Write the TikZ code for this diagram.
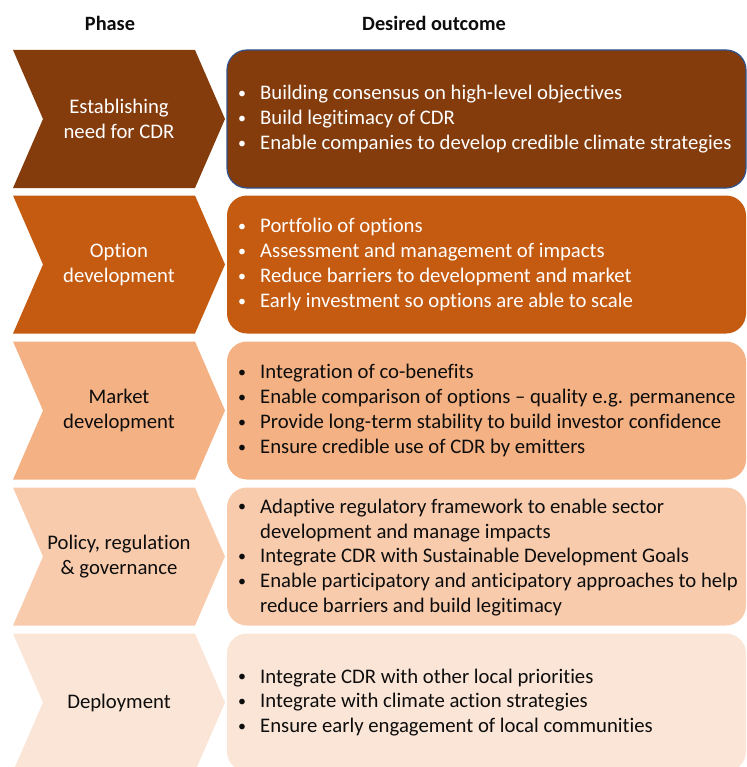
\documentclass[tikz,border=0pt]{standalone}
\usepackage{fontspec}
\setmainfont{Carlito}[Ligatures=NoCommon]
\usepackage{array}
\definecolor{cA}{HTML}{843C0C}
\definecolor{cB}{HTML}{C55A11}
\definecolor{cC}{HTML}{F4B183}
\definecolor{cD}{HTML}{F8CBAD}
\definecolor{cE}{HTML}{FBE5D6}
\definecolor{boxblue}{HTML}{2F528F}
\definecolor{dtext}{HTML}{0D0D0D}
\newcommand{\bul}{\hspace*{1bp}\raisebox{1.2bp}{\fontsize{16}{16}\selectfont •}}
\newcommand{\blist}[1]{\begin{tabular}{@{}p{23bp}@{}l@{}}#1\end{tabular}}
\tikzset{
  txt/.style={inner sep=0pt, font=\fontsize{20.8}{25}\selectfont},
  lab/.style={txt, align=center},
  lst/.style={txt, anchor=west},
  hdr/.style={inner sep=0pt, font=\fontsize{20.4}{25}\selectfont\bfseries, text=dtext},
  obox/.style={rounded corners=20bp}
}
\begin{document}
\begin{tikzpicture}[x=1bp,y=-1bp]
\useasboundingbox (0,0) rectangle (747,767);
\clip (0,0) rectangle (747,767);
\node[hdr] (hphase) at (110,23) {Phase};
\node[hdr] (hout) at (434,23) {Desired outcome};
% row 1
\fill[cA] (13,50) -- (195,50) -- (225,119) -- (195,188) -- (13,188) -- (43,119) -- cycle;
\node[lab, text=white] (p1) at (119,119) {Establishing\\need for CDR};
\filldraw[obox, fill=cA, draw=boxblue, line width=1.2bp] (227,50) rectangle (746,188);
\node[lst, text=white] (o1) at (237,119.5) {\blist{%
\bul & Building consensus on high-level objectives\\
\bul & Build legitimacy of CDR\\
\bul & Enable companies to develop credible climate strategies}};
% row 2
\fill[cB] (13,195.5) -- (195,195.5) -- (225,264.5) -- (195,333.5) -- (13,333.5) -- (43,264.5) -- cycle;
\node[lab, text=white] (p2) at (119,264.5) {Option\\development};
\fill[obox, cB] (227,195.5) rectangle (746,333.5);
\node[lst, text=white] (o2) at (237,265) {\blist{%
\bul & Portfolio of options\\
\bul & Assessment and management of impacts\\
\bul & Reduce barriers to development and market\\
\bul & Early investment so options are able to scale}};
% row 3
\fill[cC] (13,341.5) -- (195,341.5) -- (225,410.5) -- (195,479.5) -- (13,479.5) -- (43,410.5) -- cycle;
\node[lab, text=dtext] (p3) at (119,410.5) {Market\\development};
\fill[obox, cC] (227,341.5) rectangle (746,479.5);
\node[lst, text=dtext] (o3) at (237,411) {\blist{%
\bul & Integration of co-benefits\\
\bul & Enable comparison of options – quality e.g. permanence\\
\bul & Provide long-term stability to build investor confidence\\
\bul & Ensure credible use of CDR by emitters}};
% row 4
\fill[cD] (13,487.5) -- (195,487.5) -- (225,556.5) -- (195,625.5) -- (13,625.5) -- (43,556.5) -- cycle;
\node[lab, text=dtext] (p4) at (119,556.5) {Policy, regulation\\\& governance};
\fill[obox, cD] (227,487.5) rectangle (746,625.5);
\node[lst, text=dtext] (o4) at (237,558) {\blist{%
\bul & Adaptive regulatory framework to enable sector\\
  & development and manage impacts\\
\bul & Integrate CDR with Sustainable Development Goals\\
\bul & Enable participatory and anticipatory approaches to help\\
  & reduce barriers and build legitimacy}};
% row 5
\fill[cE] (13,633.5) -- (195,633.5) -- (225,702.5) -- (195,771.5) -- (13,771.5) -- (43,702.5) -- cycle;
\node[lab, text=dtext] (p5) at (119,702.5) {Deployment};
\fill[obox, cE] (227,633.5) rectangle (746,771.5);
\node[lst, text=dtext] (o5) at (237,703) {\blist{%
\bul & Integrate CDR with other local priorities\\
\bul & Integrate with climate action strategies\\
\bul & Ensure early engagement of local communities}};
\end{tikzpicture}
\end{document}
